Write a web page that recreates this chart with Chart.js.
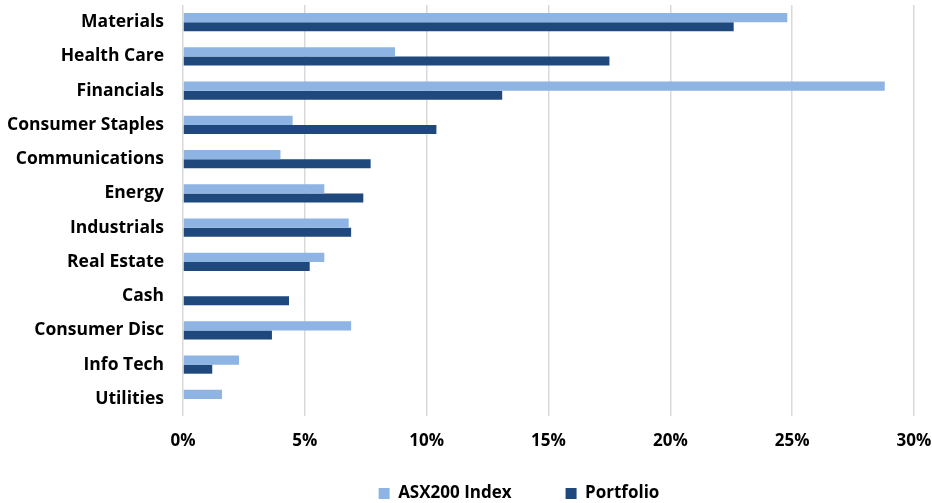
<!DOCTYPE html>
<html>
<head>
<meta charset="utf-8">
<script src="https://cdn.jsdelivr.net/npm/chart.js@4"></script>
<style>
  html, body { margin: 0; padding: 0; background: #fff; }
  #wrap { width: 932px; height: 503px; }
</style>
</head>
<body>
<div id="wrap"><canvas id="myChart"></canvas></div>
<script>
var sectors = ['Materials', 'Health Care', 'Financials', 'Consumer Staples', 'Communications',
  'Energy', 'Industrials', 'Real Estate', 'Cash', 'Consumer Disc', 'Info Tech', 'Utilities'];
var asx200 = [24.8, 8.7, 28.8, 4.5, 4.0, 5.8, 6.8, 5.8, 0, 6.9, 2.3, 1.6];
var portfolio = [22.6, 17.5, 13.1, 10.4, 7.7, 7.4, 6.9, 5.2, 4.35, 3.65, 1.2, 0];
var xTicks = [0, 5, 10, 15, 20, 25, 30];

var font = { family: "'Open Sans', sans-serif", size: 17, weight: 'bold' };

// nudge the legend into place (Chart.js ties item gap and vertical offset together)
var legendShift = {
  id: 'legendShift',
  afterLayout: function (chart) {
    var lg = chart.legend;
    lg.left += 62; lg.right += 62;
    lg.top -= 21;
    lg.bottom = chart.height;
    lg.height = lg.bottom - lg.top;
  }
};

var chart = new Chart(document.getElementById('myChart'), {
  type: 'bar',
  data: {
    labels: sectors,
    datasets: [
      {
        label: 'ASX200 Index',
        data: asx200,
        backgroundColor: '#8EB4E3',
        borderWidth: 0,
        categoryPercentage: 0.53,
        barPercentage: 1.0
      },
      {
        label: 'Portfolio',
        data: portfolio,
        backgroundColor: '#1F497D',
        borderWidth: 0,
        categoryPercentage: 0.53,
        barPercentage: 1.0
      }
    ]
  },
  plugins: [legendShift],
  options: {
    indexAxis: 'y',
    responsive: true,
    maintainAspectRatio: false,
    animation: false,
    layout: { padding: { top: 5, right: 18, left: 0, bottom: 0 } },
    plugins: {
      tooltip: { enabled: false },
      legend: {
        position: 'bottom',
        maxHeight: 51,
        labels: {
          color: '#000',
          font: font,
          boxWidth: 11,
          boxHeight: 11,
          padding: 54
        }
      }
    },
    scales: {
      x: {
        min: 0,
        max: 30,
        afterBuildTicks: function (axis) {
          axis.ticks = xTicks.map(function (v) { return { value: v }; });
        },
        afterFit: function (axis) {
          axis.height = 36;
          axis.paddingLeft = 0;
          axis.paddingRight = 0;
        },
        grid: { color: '#D9D9D9', lineWidth: 1.5, drawTicks: true, tickLength: 15, tickColor: 'rgba(0,0,0,0)' },
        border: { display: false },
        ticks: {
          color: '#000',
          font: font,
          padding: 0,
          callback: function (v) { return v + '%'; }
        }
      },
      y: {
        afterFit: function (axis) {
          axis.width = 183;
          axis.paddingTop = 0;
          axis.paddingBottom = 0;
        },
        grid: { display: false, drawTicks: true, tickLength: 19 },
        border: { display: false },
        ticks: { color: '#000', font: { family: "'Open Sans', sans-serif", size: 17.5, weight: 'bold' }, padding: 0 }
      }
    }
  }
});
</script>
</body>
</html>
